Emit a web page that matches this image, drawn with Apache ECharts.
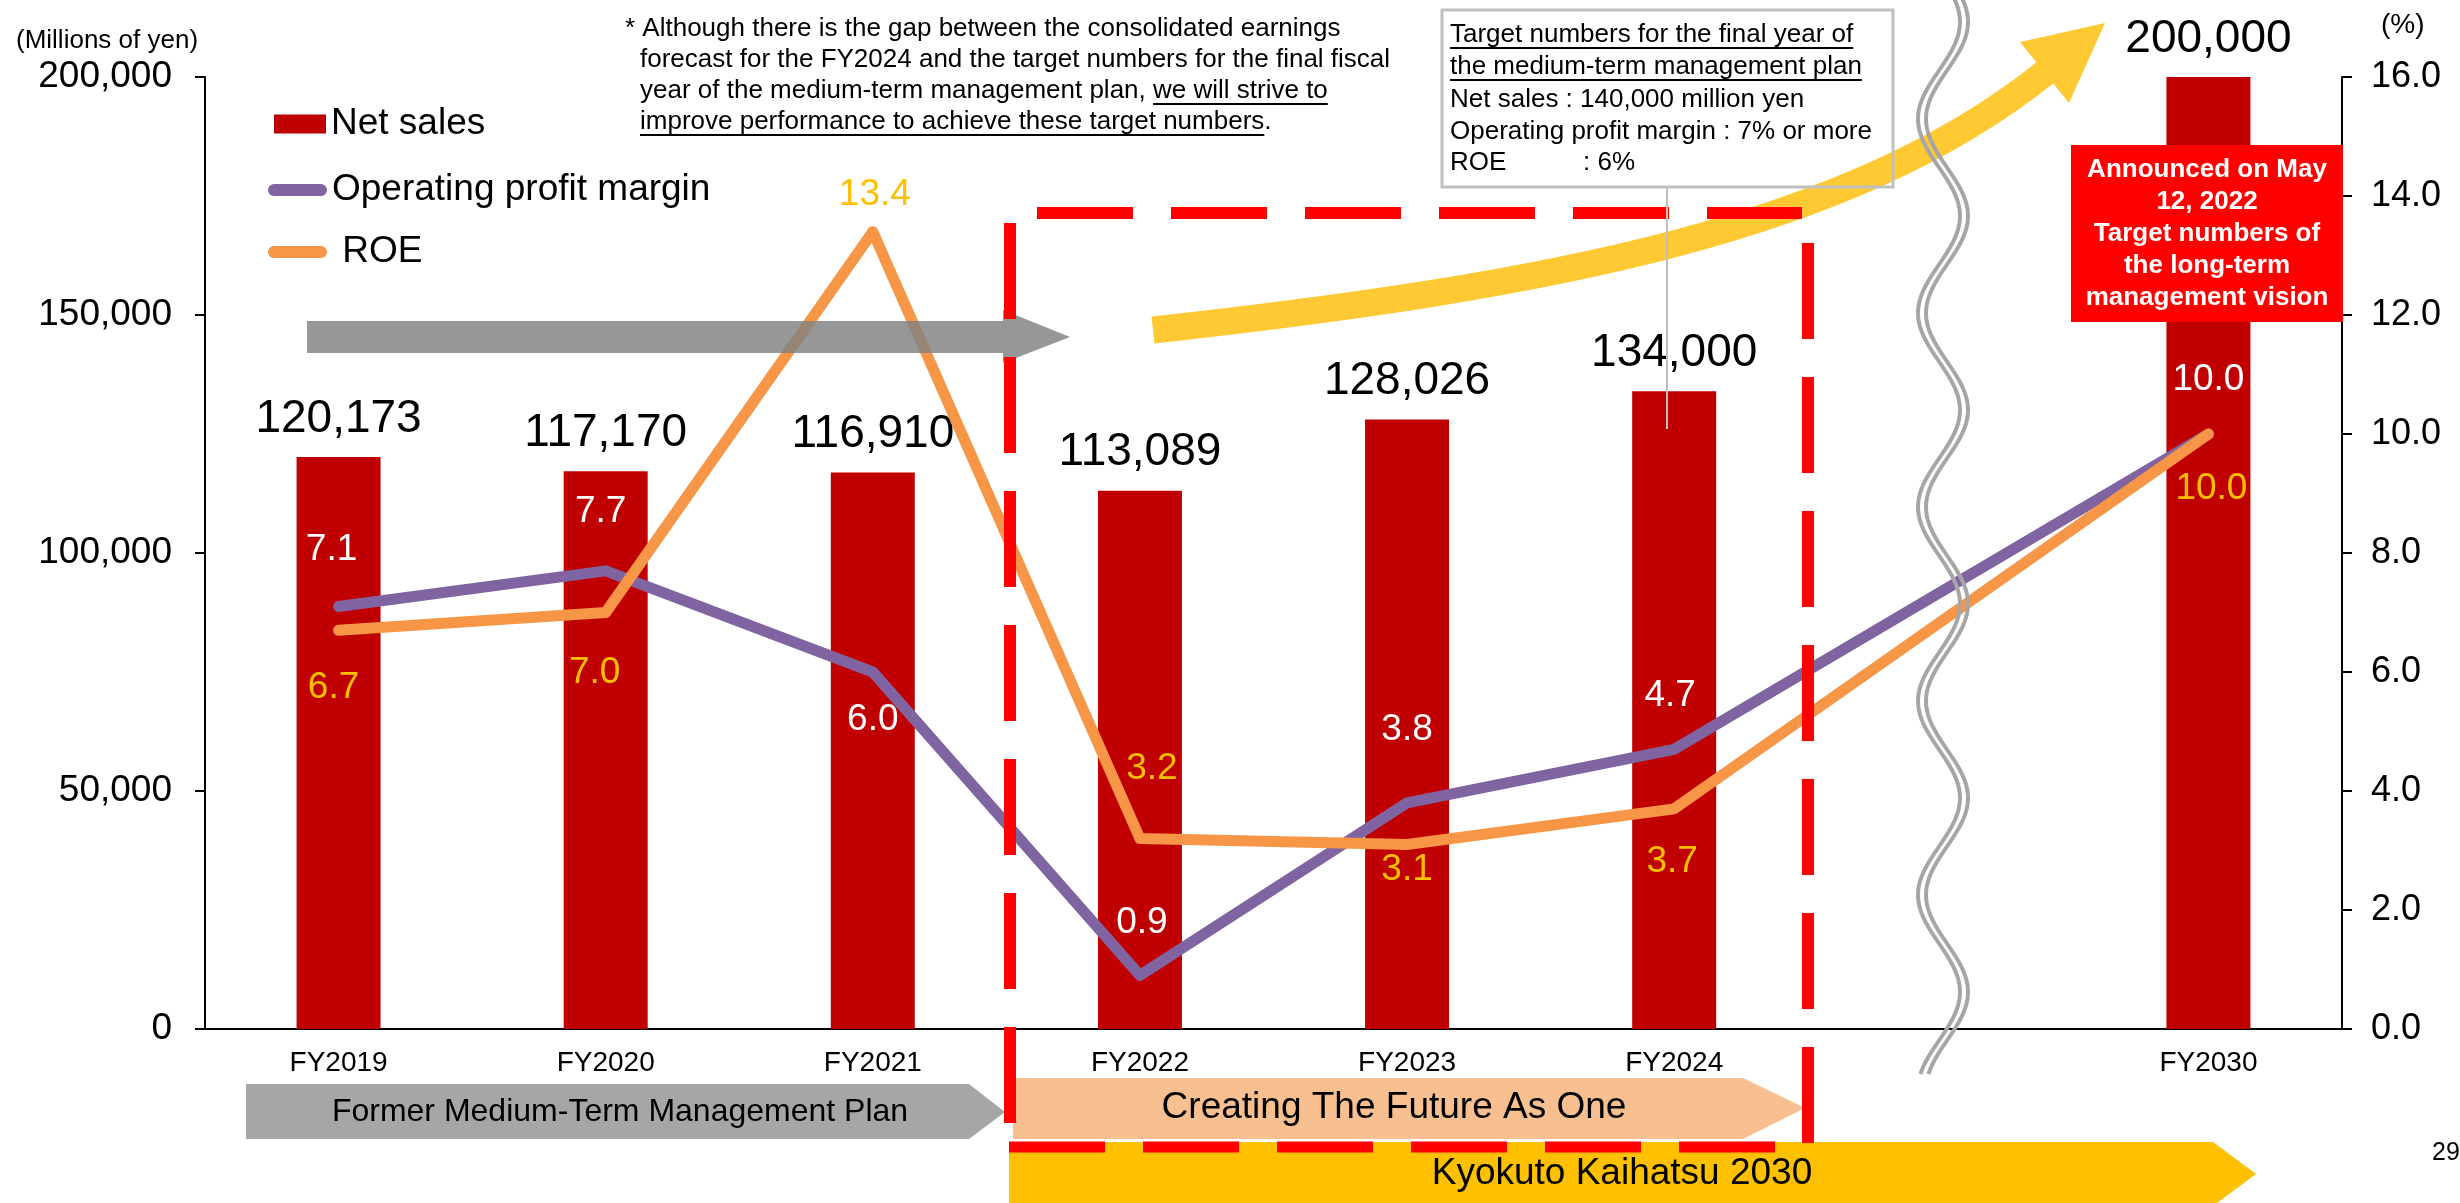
<!DOCTYPE html>
<html>
<head>
<meta charset="utf-8">
<title>Net sales, operating profit margin and ROE</title>
<script src="https://cdn.jsdelivr.net/npm/echarts@6/dist/echarts.min.js"></script>
<style>
    html, body { margin: 0; padding: 0; background: #fff; }
    #mainChart { width: 2460px; height: 1203px; }
</style>
</head>
<body>
<div id="mainChart"></div>
<script>
// ---- data ----
const categories = ['FY2019', 'FY2020', 'FY2021', 'FY2022', 'FY2023', 'FY2024', '', 'FY2030'];
const netSales = [120173, 117170, 116910, 113089, 128026, 134000, null, 200000];
const operatingProfitMargin = [7.1, 7.7, 6.0, 0.9, 3.8, 4.7, null, 10.0];
const roe = [6.7, 7.0, 13.4, 3.2, 3.1, 3.7, null, 10.0];
const salesTicks = [0, 50000, 100000, 150000, 200000];
const percentTicks = [0, 2, 4, 6, 8, 10, 12, 14, 16];

// label nudges (px) for the line values, placed by hand on the slide
const marginLabelOffset = [[-7, -57], [-5, -59], [0, 48], [2, -53], [0, -73], [-4, -54], null, [0, -54]];
const roeLabelOffset = [[-5, 57], [-11, 60], [2, -37], [12, -70], [0, 25], [-2, 53], null, [3, 55]];

const FONT = '"Liberation Sans", Arial, sans-serif';

window.onload = () => {
    new SalesChartVm().main();
};

class SalesChartVm {
    chart;
    measureCtx;

    main() {
        this.measureCtx = document.createElement('canvas').getContext('2d');
        this.chart = echarts.init(document.getElementById('mainChart'));
        this.chart.setOption(this.buildOption());
    }

    textWidth(text, size, weight) {
        this.measureCtx.font = `${weight || 'normal'} ${size}px ${FONT}`;
        return this.measureCtx.measureText(text).width;
    }

    buildOption() {
        let legendText = {fontSize: 37, fontFamily: FONT, color: '#000', lineHeight: 40};
        let capsule = 'path://M6 0H53A6 6 0 0 1 53 12H6A6 6 0 0 1 6 0Z';

        return {
            animation: false,
            backgroundColor: '#fff',
            grid: {left: 205, right: 118, top: 77, bottom: 174},
            legend: [
                {data: ['Net sales'], left: 274, top: 104, padding: 0, icon: 'rect',
                    itemWidth: 52, itemHeight: 19, selectedMode: false, textStyle: legendText},
                {data: ['Operating profit margin'], left: 268, top: 170, padding: 0, icon: capsule,
                    itemWidth: 59, itemHeight: 12, selectedMode: false, textStyle: legendText},
                {data: ['ROE'], left: 268, top: 232, padding: 0, icon: capsule,
                    itemWidth: 59, itemHeight: 12, selectedMode: false, textStyle: legendText,
                    formatter: name => ' ' + name}
            ],
            xAxis: {
                type: 'category',
                data: categories,
                axisLine: {lineStyle: {color: '#000', width: 2}},
                axisTick: {show: false},
                axisLabel: {color: '#000', fontSize: 28, fontFamily: FONT, margin: 20, interval: 0}
            },
            yAxis: [
                this.valueAxis(salesTicks, 'left', 33, 37, v => v.toLocaleString('en-US')),
                this.valueAxis(percentTicks, 'right', 29, 36, v => v.toFixed(1))
            ],
            series: [
                {
                    name: 'Net sales',
                    type: 'bar',
                    yAxisIndex: 0,
                    barWidth: 84,
                    itemStyle: {color: '#C00000'},
                    label: {
                        show: true, position: 'top', distance: 15,
                        fontSize: 46, lineHeight: 46, fontFamily: FONT, color: '#000',
                        formatter: p => p.value == null ? '' : p.value.toLocaleString('en-US')
                    },
                    emphasis: {disabled: true},
                    data: netSales
                },
                this.lineSeries('Operating profit margin', operatingProfitMargin,
                    marginLabelOffset, '#8064A2', '#FFFFFF'),
                this.lineSeries('ROE', roe, roeLabelOffset, '#F79646', '#FFC000')
            ],
            graphic: {elements: this.buildGraphics()}
        };
    }

    valueAxis(ticks, position, margin, fontSize, formatter) {
        return {
            type: 'value',
            position: position,
            min: ticks[0],
            max: ticks[ticks.length - 1],
            interval: ticks[1] - ticks[0],
            axisLine: {show: true, lineStyle: {color: '#000', width: 2}},
            axisTick: {show: true, length: 10, lineStyle: {color: '#000', width: 2}},
            splitLine: {show: false},
            axisLabel: {color: '#000', fontSize: fontSize, fontFamily: FONT, margin: margin, formatter: formatter}
        };
    }

    lineSeries(name, values, offsets, color, labelColor) {
        return {
            name: name,
            type: 'line',
            yAxisIndex: 1,
            connectNulls: true,
            symbol: 'circle',
            symbolSize: 1,
            lineStyle: {color: color, width: 11, cap: 'round', join: 'round'},
            itemStyle: {color: color},
            label: {
                show: true, position: 'inside',
                fontSize: 37, fontFamily: FONT, color: labelColor,
                formatter: p => p.value == null ? '' : p.value.toFixed(1)
            },
            emphasis: {disabled: true},
            z: 3,
            data: values.map((v, i) => v == null ? null : {value: v, label: {offset: offsets[i]}})
        };
    }

    textRow(x, y, parts, size, out) {
        let cx = x;
        parts.forEach(([str, underline]) => {
            let w = this.textWidth(str, size);
            out.push({
                type: 'text', x: cx, y: y, z: 100,
                style: {text: str, fill: '#000', font: `${size}px ${FONT}`,
                    align: 'left', verticalAlign: 'middle', textAlign: 'left', textVerticalAlign: 'middle'}
            });
            if (underline) {
                out.push({
                    type: 'line', z: 100,
                    shape: {x1: cx, y1: y + 13, x2: cx + w, y2: y + 13},
                    style: {stroke: '#000', lineWidth: 2}
                });
            }
            cx += w;
        });
    }

    centerText(text, x, y, size, color, weight, lineHeight) {
        return {
            type: 'text', x: x, y: y, z: 100,
            style: {text: text, fill: color, font: `${weight || 'normal'} ${size}px ${FONT}`,
                lineHeight: lineHeight || size,
                align: 'center', verticalAlign: 'middle', textAlign: 'center', textVerticalAlign: 'middle'}
        };
    }

    buildGraphics() {
        let g = [];

        // yellow growth arrow
        g.push({
            type: 'bezierCurve', z: 90,
            shape: {x1: 1153, y1: 330, cpx1: 1550, cpy1: 286, cpx2: 1849, cpy2: 230, x2: 2046, y2: 72},
            style: {stroke: '#FFC933', lineWidth: 27, fill: null}
        });
        g.push({
            type: 'polygon', z: 90,
            shape: {points: [[2020, 42], [2105, 23], [2069, 103]]},
            style: {fill: '#FFC933'}
        });

        // grey arrow of the former plan period
        g.push({
            type: 'polygon', z: 95,
            shape: {points: [[307, 321], [1003, 321], [1003, 310], [1070, 337], [1003, 363], [1003, 353], [307, 353]]},
            style: {fill: 'rgba(128,128,128,0.82)'}
        });

        // plan period banners under the axis
        g.push({
            type: 'polygon', z: 90,
            shape: {points: [[246, 1084], [969, 1084], [1005, 1112], [969, 1139], [246, 1139]]},
            style: {fill: '#A6A6A6'}
        });
        g.push(this.centerText('Former Medium-Term Management Plan', 620, 1112, 32, '#000'));
        g.push({
            type: 'polygon', z: 90,
            shape: {points: [[1013, 1078], [1743, 1078], [1805, 1108], [1743, 1139], [1013, 1139]]},
            style: {fill: '#F8C091'}
        });
        g.push(this.centerText('Creating The Future As One', 1394, 1108, 37, '#000'));
        g.push({
            type: 'polygon', z: 90,
            shape: {points: [[1009, 1142], [2213, 1142], [2256, 1174], [2213, 1206], [1009, 1206]]},
            style: {fill: '#FFC000'}
        });
        g.push(this.centerText('Kyokuto Kaihatsu 2030', 1622, 1174, 37, '#000'));

        // wavy break mark between FY2024 and FY2030
        [1939, 1947].forEach(cx => {
            let pts = [];
            for (let y = -10; y <= 1075; y += 4) {
                pts.push([cx + 21 * Math.cos(2 * Math.PI * (y - 22) / 194), y]);
            }
            g.push({
                type: 'polyline', z: 96,
                shape: {points: pts},
                style: {stroke: '#A6A6A6', lineWidth: 4, fill: null}
            });
        });

        // red dashed frame around the medium-term plan years
        let dash = {stroke: '#FF0000', lineWidth: 12, lineDash: [96, 38], fill: null};
        g.push({type: 'line', z: 97, shape: {x1: 1010, y1: 223, x2: 1010, y2: 1123}, style: dash});
        g.push({type: 'line', z: 97, shape: {x1: 1037, y1: 213, x2: 1802, y2: 213}, style: dash});
        g.push({type: 'line', z: 97, shape: {x1: 1808, y1: 243, x2: 1808, y2: 1143}, style: dash});
        g.push({type: 'line', z: 97, shape: {x1: 1009, y1: 1147, x2: 1777, y2: 1147},
            style: Object.assign({}, dash, {lineWidth: 11})});

        // footnote at the top
        this.textRow(625, 29, [['* Although there is the gap between the consolidated earnings', false]], 26, g);
        this.textRow(640, 60, [['forecast for the FY2024 and the target numbers for the final fiscal', false]], 26, g);
        this.textRow(640, 91, [['year of the medium-term management plan, ', false], ['we will strive to', true]], 26, g);
        this.textRow(640, 122, [['improve performance to achieve these target numbers', true], ['.', false]], 26, g);

        // box with the medium-term targets
        g.push({
            type: 'rect', z: 98,
            shape: {x: 1442, y: 10, width: 451, height: 177},
            style: {fill: null, stroke: '#BFBFBF', lineWidth: 3}
        });
        g.push({
            type: 'line', z: 98,
            shape: {x1: 1667, y1: 187, x2: 1667, y2: 429},
            style: {stroke: '#BFBFBF', lineWidth: 2}
        });
        this.textRow(1450, 35, [['Target numbers for the final year of', true]], 26, g);
        this.textRow(1450, 67, [['the medium-term management plan', true]], 26, g);
        this.textRow(1450, 100, [['Net sales : 140,000 million yen', false]], 26, g);
        this.textRow(1450, 132, [['Operating profit margin : 7% or more', false]], 26, g);
        this.textRow(1450, 163, [['ROE', false]], 26, g);
        this.textRow(1583, 163, [[': 6%', false]], 26, g);

        // long-term vision note on the FY2030 bar
        g.push({
            type: 'rect', z: 99,
            shape: {x: 2071, y: 145, width: 272, height: 177},
            style: {fill: '#FF0000'}
        });
        g.push(this.centerText('Announced on May\n12, 2022\nTarget numbers of\nthe long-term\nmanagement vision',
            2207, 234, 26, '#FFFFFF', 'bold', 32));

        // axis units and page number
        this.textRow(16, 41, [['(Millions of yen)', false]], 26, g);
        this.textRow(2381, 25, [['(%)', false]], 28, g);
        this.textRow(2432, 1153, [['29', false]], 25, g);

        return g;
    }
}
</script>
</body>
</html>
